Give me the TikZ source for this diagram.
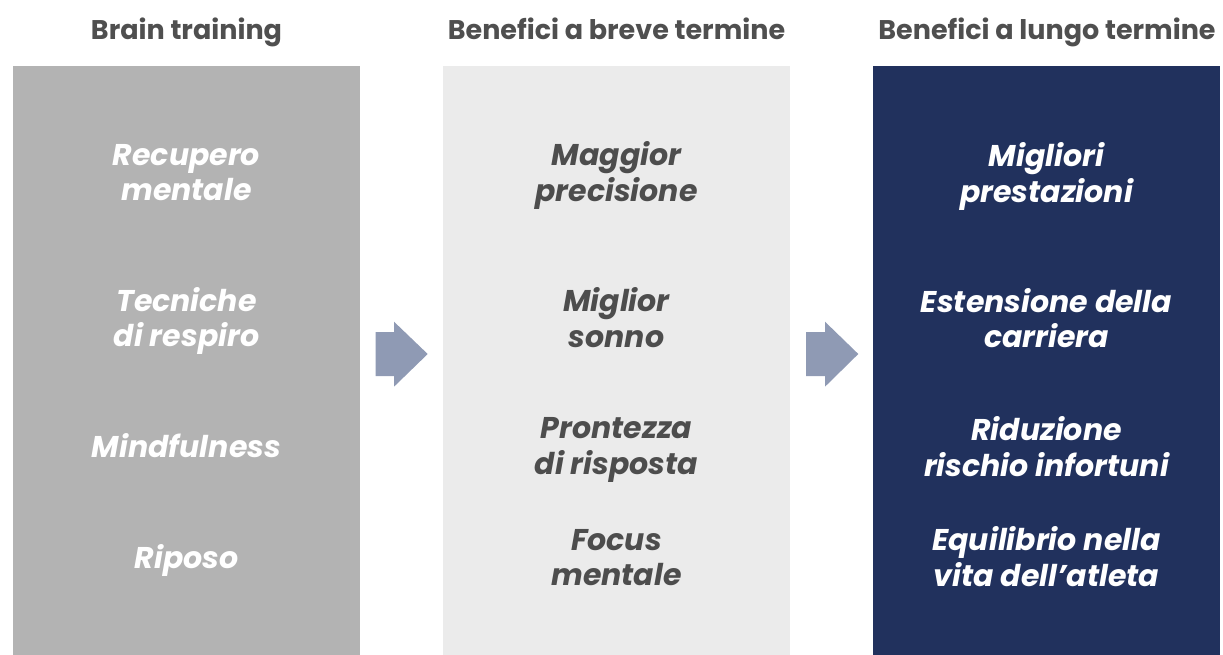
\documentclass[tikz,border=0pt]{standalone}
\usepackage{fontspec}
\setmainfont{Poppins}
\definecolor{pgray}{HTML}{B3B3B3}
\definecolor{plight}{HTML}{EBEBEB}
\definecolor{pnavy}{HTML}{21315D}
\definecolor{parrow}{HTML}{8F9AB4}
\definecolor{ptitle}{HTML}{4F4F4F}
\definecolor{pdark}{HTML}{4D4D4D}
\begin{document}
\begin{tikzpicture}[x=1pt,y=-1pt,
  panel/.style={draw=none,minimum width=347pt,minimum height=589pt,inner sep=0pt},
  ttl/.style={font=\fontsize{27}{30}\selectfont\bfseries,text=ptitle,inner sep=0pt,anchor=base},
  item/.style={font=\fontsize{30}{35.5}\selectfont\bfseries\itshape,align=center,inner sep=0pt},
  barrow/.style={fill=parrow,draw=none}]
\useasboundingbox (0,0) rectangle (1223,655);
\node[panel,fill=pgray] (p1) at (186.5,360.5) {};
\node[panel,fill=plight] (p2) at (616.5,360.5) {};
\node[panel,fill=pnavy] (p3) at (1046.5,360.5) {};
\node[ttl] (t1) at (186.5,40) {Brain training};
\node[ttl] (t2) at (616.5,40) {Benefici a breve termine};
\node[ttl] (t3) at (1047,40) {Benefici a lungo termine};
% left column
\node[item,text=white] (a1) at (186.5,172.5) {Recupero\\mentale};
\node[item,text=white] (a2) at (186.5,321) {Tecniche\\di respiro};
\node[item,text=white] (a3) at (186.5,446) {Mindfulness};
\node[item,text=white] (a4) at (186.5,560) {Riposo};
% middle column
\node[item,text=pdark] (b1) at (616.5,175.5) {Maggior\\precisione};
\node[item,text=pdark] (b2) at (616.5,317.5) {Miglior\\sonno};
\node[item,text=pdark] (b3) at (616.5,450) {Prontezza\\di risposta};
\node[item,text=pdark] (b4) at (616.5,557.5) {Focus\\mentale};
% right column
\node[item,text=white] (c1) at (1046.5,176.5) {Migliori\\prestazioni};
\node[item,text=white] (c2) at (1046.5,318) {Estensione della\\carriera};
\node[item,text=white] (c3) at (1046.5,446.5) {Riduzione\\rischio infortuni};
\node[item,text=white] (c4) at (1046.5,556.5) {Equilibrio nella\\vita dell’atleta};
% block arrows
\fill[barrow] (375.7,332) -- (394,332) -- (394,321.7) -- (427.7,354) -- (394,386.7) -- (394,376) -- (375.7,376) -- cycle;
\fill[barrow] (806,332) -- (825,332) -- (825,321.7) -- (858.3,354) -- (825,386.7) -- (825,376) -- (806,376) -- cycle;
\end{tikzpicture}
\end{document}
